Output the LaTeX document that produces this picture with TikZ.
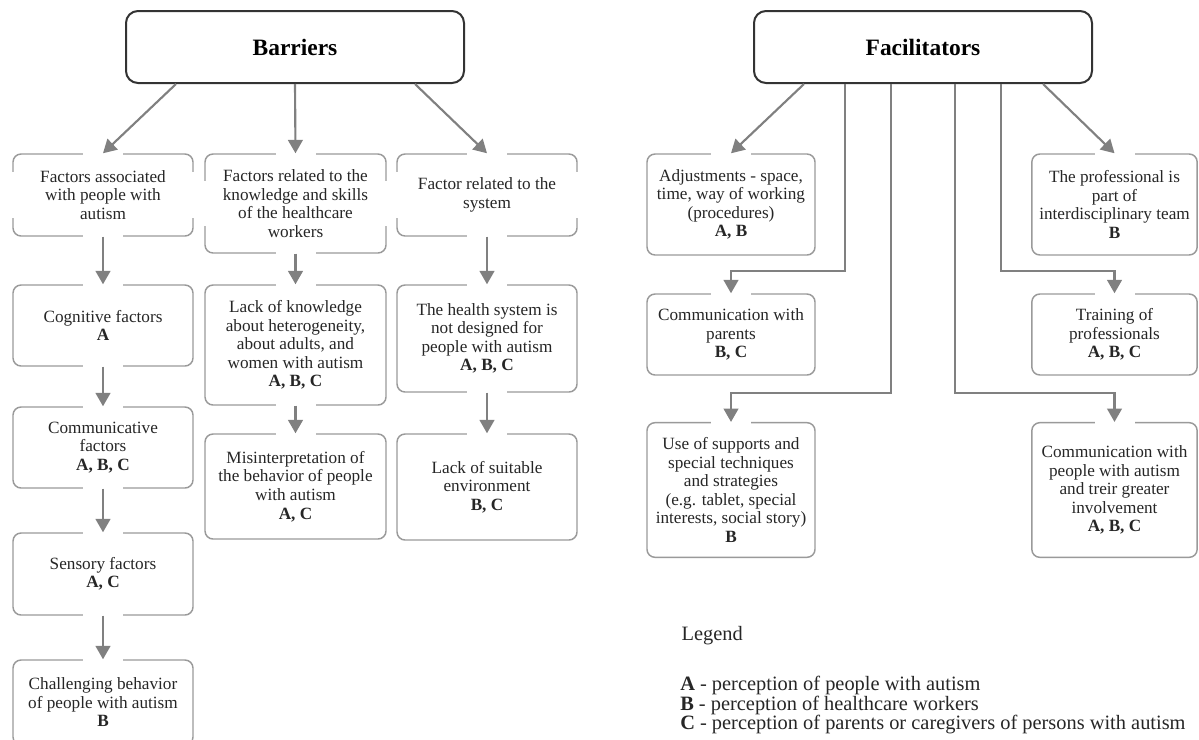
\documentclass[tikz,border=0pt]{standalone}
\usepackage{fontspec}
\setmainfont{Liberation Serif}
\usetikzlibrary{arrows.meta}
\definecolor{linegray}{HTML}{808080}
\definecolor{boxgray}{HTML}{9A9A9A}
\definecolor{headgray}{HTML}{333333}
\tikzstyle{headbox}=[draw=headgray,line width=1.5pt,rounded corners=9pt,fill=white,minimum width=253.5pt,minimum height=54pt,font=\fontsize{17.6}{20}\selectfont\bfseries]
\tikzstyle{itembox}=[draw=boxgray,line width=1.1pt,rounded corners=6pt,fill=white,align=center,inner sep=1pt,font=\fontsize{12.9}{13.9}\selectfont,text=black!85]
\tikzstyle{conn}=[draw=linegray,line width=1.6pt,-{Triangle[width=11pt,length=10pt]}]

\begin{document}
\begin{tikzpicture}[x=0.75pt,y=-0.75pt]
\useasboundingbox (0,0) rectangle (1199,739);
\node[headbox] (barr) at (295,47) {Barriers};
\node[headbox] (facil) at (923,47) {Facilitators};

\node[itembox,minimum width=135pt,minimum height=61.5pt] (fa) at (103,195) {Factors associated\\with people with\\autism};
\node[itembox,minimum width=135pt,minimum height=60.75pt] (cog) at (103,325.5) {Cognitive factors\\\textbf{A}};
\node[itembox,minimum width=135pt,minimum height=60.75pt] (comm) at (103,447.5) {Communicative\\factors\\\textbf{A, B, C}};
\node[itembox,minimum width=135pt,minimum height=61.5pt] (sens) at (103,574) {Sensory factors\\\textbf{A, C}};
\node[itembox,minimum width=135pt,minimum height=63.75pt] (chall) at (103,702.5) {Challenging behavior\\of people with autism\\\textbf{B}};

\node[itembox,minimum width=135.75pt,minimum height=74.25pt] (fr) at (295.5,203.5) {Factors related to the\\knowledge and skills\\of the healthcare\\workers};
\node[itembox,minimum width=135.75pt,minimum height=90pt] (lack) at (295.5,345) {Lack of knowledge\\about heterogeneity,\\about adults, and\\women with autism\\\textbf{A, B, C}};
\node[itembox,minimum width=135.75pt,minimum height=78.75pt] (mis) at (295.5,486.5) {Misinterpretation of\\the behavior of people\\with autism\\\textbf{A, C}};

\node[itembox,minimum width=135pt,minimum height=61.5pt] (fs) at (487,195) {Factor related to the\\system};
\node[itembox,minimum width=135pt,minimum height=80.25pt] (health) at (487,338.5) {The health system is\\not designed for\\people with autism\\\textbf{A, B, C}};
\node[itembox,minimum width=135pt,minimum height=79.5pt] (env) at (487,487) {Lack of suitable\\environment\\\textbf{B, C}};

\node[itembox,minimum width=126pt,minimum height=75.75pt] (adj) at (731,204.5) {Adjustments - space,\\time, way of working\\(procedures)\\\textbf{A, B}};
\node[itembox,minimum width=126pt,minimum height=60.75pt] (par) at (731,334.5) {Communication with\\parents\\\textbf{B, C}};
\node[itembox,minimum width=126pt,minimum height=101pt] (sup) at (731,490) {Use of supports and\\special techniques\\and strategies\\(e.g. tablet, special\\interests, social story)\\\textbf{B}};
\node[itembox,minimum width=124pt,minimum height=75.75pt] (prof) at (1114.5,204.5) {The professional is\\part of\\interdisciplinary team\\\textbf{B}};
\node[itembox,minimum width=124pt,minimum height=60.75pt] (train) at (1114.5,334.5) {Training of\\professionals\\\textbf{A, B, C}};
\node[itembox,minimum width=124pt,minimum height=101pt] (cpeople) at (1114.5,490) {Communication with\\people with autism\\and treir greater\\involvement\\\textbf{A, B, C}};

\foreach \g in {fa.north,fa.south,cog.north,cog.south,comm.north,comm.south,sens.north,sens.south,chall.north,
  fr.north,fr.south,lack.north,lack.south,mis.north,fs.north,fs.south,health.north,health.south,env.north,
  adj.north,par.north,sup.north,prof.north,train.north,cpeople.north}
  \fill[white] ([xshift=-15pt,yshift=-2pt]\g) rectangle ([xshift=15pt,yshift=2pt]\g);
\foreach \g in {fa.west,fa.east,fr.west,fr.east,fs.west,fs.east}
  \fill[white] ([xshift=-2pt,yshift=-17pt]\g) rectangle ([xshift=2pt,yshift=17pt]\g);

\draw[conn] ([xshift=-89.25pt]barr.south) -- (fa.north);
\draw[conn] (barr.south) -- (fr.north);
\draw[conn] ([xshift=90pt]barr.south) -- (fs.north);
\draw[conn] (fa) -- (cog);
\draw[conn] (cog) -- (comm);
\draw[conn] (comm) -- (sens);
\draw[conn] (sens) -- (chall);
\draw[conn] (fr) -- (lack);
\draw[conn] (lack) -- (mis);
\draw[conn] (fs) -- (health);
\draw[conn] (health) -- (env);

\draw[conn] ([xshift=-89.25pt]facil.south) -- (adj.north);
\draw[conn] ([xshift=90pt]facil.south) -- (prof.north);
\draw[conn] ([xshift=-58.5pt]facil.south) -- ++(0,187) -| (par.north);
\draw[conn] ([xshift=-24pt]facil.south) -- ++(0,309) -| (sup.north);
\draw[conn] ([xshift=24pt]facil.south) -- ++(0,309) -| (cpeople.north);
\draw[conn] ([xshift=58.5pt]facil.south) -- ++(0,187) -| (train.north);

\node[anchor=west,font=\fontsize{15.3}{18}\selectfont,text=black!85] (leg) at (677,636) {Legend};
\node[anchor=north west,align=left,inner sep=0pt,font=\fontsize{15.3}{14.6}\selectfont,text=black!85] (legtext) at (680,676) {\textbf{A} - perception of people with autism\\\textbf{B} - perception of healthcare workers\\\textbf{C} - perception of parents or caregivers of persons with autism};
\end{tikzpicture}
\end{document}
